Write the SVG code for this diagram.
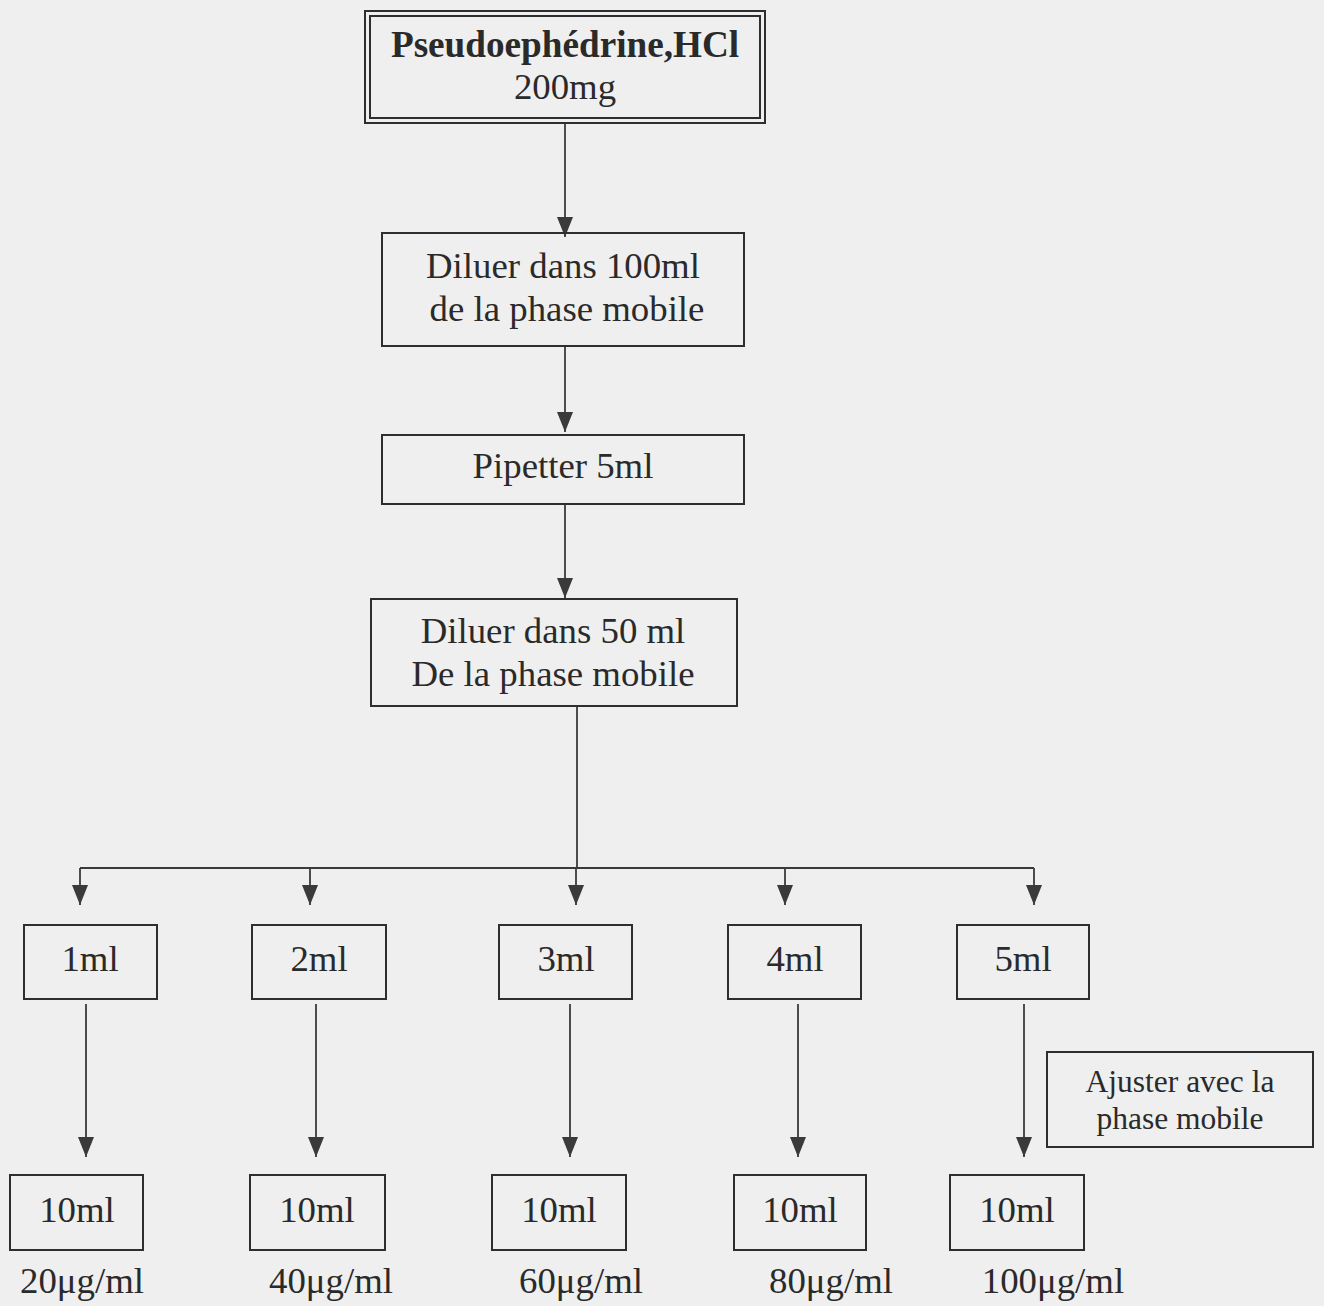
<svg xmlns="http://www.w3.org/2000/svg" width="1324" height="1306" viewBox="0 0 1324 1306">
<defs>
<marker id="ah" viewBox="0 0 20 16" markerWidth="20" markerHeight="16" refX="20" refY="8" orient="auto" markerUnits="userSpaceOnUse">
<path d="M0,0 L20,8 L0,16 z" fill="#3a3a3a"/>
</marker>
</defs>
<style>
.bx{fill:none;stroke:#2e2e2e;stroke-width:2}
.ln{fill:none;stroke:#3a3a3a;stroke-width:1.8}
.t{font-family:"Liberation Serif","Times New Roman",serif;font-size:36.8px;fill:#2a2a2a;text-anchor:middle}
.s{font-size:31.5px}
.b{font-weight:bold;font-size:37.2px}
</style>
<rect x="0" y="0" width="1324" height="1306" fill="#efefef"/>

<g id="connectors">
<line class="ln" x1="565" y1="123" x2="565" y2="237" marker-end="url(#ah)"/>
<line class="ln" x1="565" y1="346" x2="565" y2="432" marker-end="url(#ah)"/>
<line class="ln" x1="565" y1="504" x2="565" y2="598" marker-end="url(#ah)"/>
<line class="ln" x1="577" y1="706" x2="577" y2="868"/>
<polyline class="ln" points="80,868 1034,868"/>
<line class="ln" x1="80" y1="868" x2="80" y2="905" marker-end="url(#ah)"/>
<line class="ln" x1="310" y1="868" x2="310" y2="905" marker-end="url(#ah)"/>
<line class="ln" x1="576" y1="868" x2="576" y2="905" marker-end="url(#ah)"/>
<line class="ln" x1="785" y1="868" x2="785" y2="905" marker-end="url(#ah)"/>
<line class="ln" x1="1034" y1="868" x2="1034" y2="905" marker-end="url(#ah)"/>
<line class="ln" x1="86" y1="1004" x2="86" y2="1157" marker-end="url(#ah)"/>
<line class="ln" x1="316" y1="1004" x2="316" y2="1157" marker-end="url(#ah)"/>
<line class="ln" x1="570" y1="1004" x2="570" y2="1157" marker-end="url(#ah)"/>
<line class="ln" x1="798" y1="1004" x2="798" y2="1157" marker-end="url(#ah)"/>
<line class="ln" x1="1024" y1="1004" x2="1024" y2="1157" marker-end="url(#ah)"/>
</g>

<g id="n-top">
<rect class="bx" x="365" y="11" width="400" height="112"/>
<rect class="bx" x="370" y="16" width="390" height="102"/>
<text class="t b" x="565" y="57">Pseudoephédrine,HCl</text>
<text class="t" x="565" y="99">200mg</text>
</g>
<g id="n-diluer100">
<rect class="bx" x="382" y="233" width="362" height="113"/>
<text class="t" x="563" y="278">Diluer dans 100ml</text>
<text class="t" x="567" y="321">de la phase mobile</text>
</g>
<g id="n-pipetter">
<rect class="bx" x="382" y="435" width="362" height="69"/>
<text class="t" x="563" y="478">Pipetter 5ml</text>
</g>
<g id="n-diluer50">
<rect class="bx" x="371" y="599" width="366" height="107"/>
<text class="t" x="553" y="643">Diluer dans 50 ml</text>
<text class="t" x="553" y="686">De la phase mobile</text>
</g>

<g id="n-1ml"><rect class="bx" x="24" y="925" width="133" height="74"/><text class="t" x="90" y="971">1ml</text></g>
<g id="n-2ml"><rect class="bx" x="252" y="925" width="134" height="74"/><text class="t" x="319" y="971">2ml</text></g>
<g id="n-3ml"><rect class="bx" x="499" y="925" width="133" height="74"/><text class="t" x="566" y="971">3ml</text></g>
<g id="n-4ml"><rect class="bx" x="728" y="925" width="133" height="74"/><text class="t" x="795" y="971">4ml</text></g>
<g id="n-5ml"><rect class="bx" x="957" y="925" width="132" height="74"/><text class="t" x="1023" y="971">5ml</text></g>

<g id="n-ajuster">
<rect class="bx" x="1047" y="1052" width="266" height="95"/>
<text class="t s" x="1180" y="1092">Ajuster avec la</text>
<text class="t s" x="1180" y="1129">phase mobile</text>
</g>

<g id="n-10ml-1"><rect class="bx" x="10" y="1175" width="133" height="75"/><text class="t" x="77" y="1222">10ml</text><text class="t" x="82" y="1293">20μg/ml</text></g>
<g id="n-10ml-2"><rect class="bx" x="250" y="1175" width="135" height="75"/><text class="t" x="317" y="1222">10ml</text><text class="t" x="331" y="1293">40μg/ml</text></g>
<g id="n-10ml-3"><rect class="bx" x="492" y="1175" width="134" height="75"/><text class="t" x="559" y="1222">10ml</text><text class="t" x="581" y="1293">60μg/ml</text></g>
<g id="n-10ml-4"><rect class="bx" x="734" y="1175" width="132" height="75"/><text class="t" x="800" y="1222">10ml</text><text class="t" x="831" y="1293">80μg/ml</text></g>
<g id="n-10ml-5"><rect class="bx" x="950" y="1175" width="134" height="75"/><text class="t" x="1017" y="1222">10ml</text><text class="t" x="1053" y="1293">100μg/ml</text></g>
</svg>
